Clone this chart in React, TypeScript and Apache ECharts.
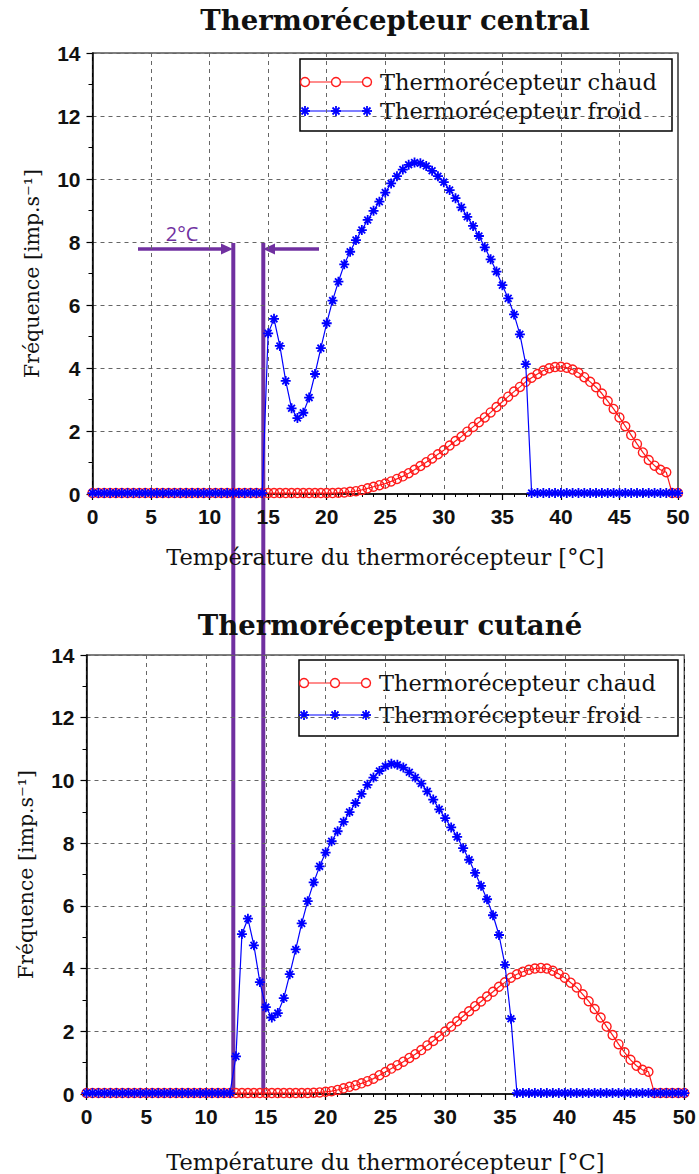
import React, { useEffect, useRef } from "react";
import * as echarts from "echarts";

// Temperature sampling (°C), one point every 0.5 °C from 0 to 50
const temperatures: number[] = Array.from({ length: 101 }, (_, i) => i / 2);

// Thermorécepteur central
const centralChaud: number[] = [
  0.03, 0.03, 0.03, 0.03, 0.03, 0.03, 0.03, 0.03, 0.03, 0.03,
  0.03, 0.03, 0.03, 0.03, 0.03, 0.03, 0.03, 0.03, 0.03, 0.03,
  0.03, 0.03, 0.03, 0.03, 0.03, 0.03, 0.03, 0.03, 0.03, 0.03,
  0.03, 0.03, 0.03, 0.03, 0.03, 0.03, 0.03, 0.03, 0.03, 0.03,
  0.03,
  0.03, 0.04, 0.05, 0.07, 0.09, 0.13, 0.18, 0.23, 0.28, 0.33,
  0.40, 0.48, 0.56, 0.66, 0.77, 0.89, 1.01, 1.13, 1.26, 1.39,
  1.54, 1.68, 1.82, 1.98, 2.13, 2.28, 2.43, 2.59, 2.76, 2.93,
  3.09, 3.25, 3.40, 3.56, 3.69, 3.81, 3.92, 3.99, 4.03, 4.04,
  4.01, 3.95, 3.85, 3.71, 3.56, 3.39, 3.19, 2.95, 2.70, 2.43,
  2.15, 1.87, 1.59, 1.32, 1.08, 0.90, 0.77, 0.69, 0.03, 0.03,
];
const centralFroid: number[] = [
  0.03, 0.03, 0.03, 0.03, 0.03, 0.03, 0.03, 0.03, 0.03, 0.03,
  0.03, 0.03, 0.03, 0.03, 0.03, 0.03, 0.03, 0.03, 0.03, 0.03,
  0.03, 0.03, 0.03, 0.03, 0.03, 0.03, 0.03, 0.03, 0.03,
  0.03, 5.1, 5.56, 4.7, 3.59, 2.72, 2.41, 2.58, 3.06, 3.81,
  4.63, 5.42, 6.14, 6.74, 7.29, 7.69, 8.06, 8.38, 8.70, 8.99,
  9.28, 9.57, 9.86, 10.09, 10.30, 10.45, 10.52, 10.50, 10.41, 10.26,
  10.09, 9.90, 9.65, 9.39, 9.10, 8.80, 8.51, 8.19, 7.83, 7.45,
  7.06, 6.63, 6.21, 5.70, 5.07, 4.12,
  0.03, 0.03, 0.03, 0.03, 0.03, 0.03, 0.03, 0.03, 0.03, 0.03,
  0.03, 0.03, 0.03, 0.03, 0.03, 0.03, 0.03, 0.03, 0.03, 0.03,
  0.03, 0.03, 0.03, 0.03, 0.03, 0.03,
];

// Thermorécepteur cutané
const cutaneChaud: number[] = [
  0.03, 0.03, 0.03, 0.03, 0.03, 0.03, 0.03, 0.03, 0.03, 0.03,
  0.03, 0.03, 0.03, 0.03, 0.03, 0.03, 0.03, 0.03, 0.03, 0.03,
  0.03, 0.03, 0.03, 0.03, 0.03, 0.03, 0.03, 0.03, 0.03, 0.03,
  0.03, 0.03, 0.03, 0.03, 0.03, 0.03, 0.03,
  0.03, 0.04, 0.05, 0.07, 0.09, 0.13, 0.18, 0.23, 0.28, 0.34,
  0.41, 0.49, 0.60, 0.70, 0.81, 0.92, 1.03, 1.15, 1.27, 1.40,
  1.55, 1.69, 1.84, 1.99, 2.15, 2.32, 2.48, 2.64, 2.80, 2.95,
  3.11, 3.26, 3.42, 3.56, 3.71, 3.82, 3.90, 3.96, 4.00, 4.02,
  4.00, 3.93, 3.83, 3.71, 3.55, 3.40, 3.18, 2.96, 2.71, 2.44,
  2.15, 1.88, 1.59, 1.33, 1.09, 0.90, 0.77, 0.71,
  0.03, 0.03, 0.03, 0.03, 0.03, 0.03,
];
const cutaneFroid: number[] = [
  0.03, 0.03, 0.03, 0.03, 0.03, 0.03, 0.03, 0.03, 0.03, 0.03,
  0.03, 0.03, 0.03, 0.03, 0.03, 0.03, 0.03, 0.03, 0.03, 0.03,
  0.03, 0.03, 0.03, 0.03, 0.03,
  1.2, 5.1, 5.59, 4.74, 3.57, 2.77, 2.44, 2.58, 3.06, 3.82,
  4.61, 5.44, 6.15, 6.75, 7.26, 7.70, 8.06, 8.38, 8.68, 8.99,
  9.28, 9.57, 9.86, 10.09, 10.30, 10.45, 10.53, 10.50, 10.41, 10.26,
  10.09, 9.90, 9.65, 9.39, 9.08, 8.80, 8.50, 8.20, 7.84, 7.47,
  7.05, 6.64, 6.21, 5.70, 5.07, 4.12, 2.40,
  0.03, 0.03, 0.03, 0.03, 0.03, 0.03, 0.03, 0.03, 0.03, 0.03,
  0.03, 0.03, 0.03, 0.03, 0.03, 0.03, 0.03, 0.03, 0.03, 0.03,
  0.03, 0.03, 0.03, 0.03, 0.03, 0.03, 0.03, 0.03, 0.03,
];

const titles = ["Thermorécepteur central", "Thermorécepteur cutané"];
const legendNames = ["Thermorécepteur chaud", "Thermorécepteur froid"];
const xAxisName = "Température du thermorécepteur [°C]";
const yAxisName = "Fréquence [imp.s⁻¹]";

const RED = "#ff1a1a";
const BLUE = "#0000ff";
const PURPLE = "#7030a0";
const SERIF = '"DejaVu Serif", serif';
const SANS = '"Liberation Sans", Arial, sans-serif';

const STAR = "path://M5 0 L5 10 M0 5 L10 5 M1.6 1.6 L8.4 8.4 M1.6 8.4 L8.4 1.6";

function pairs(vals: number[]) {
  return temperatures.map((t, i) => [t, vals[i]]);
}

function makeAxes(gi: number, xNameGap: number, yNameGap: number) {
  const x = {
    type: "value",
    gridIndex: gi,
    min: 0,
    max: 50,
    interval: 5,
    axisLine: { onZero: false, lineStyle: { color: "#000", width: 1.5 } },
    axisTick: { show: true, length: 6, lineStyle: { color: "#000", width: 1.2 } },
    minorTick: { show: true, splitNumber: 5, length: 3, lineStyle: { color: "#000", width: 1 } },
    splitLine: { show: true, lineStyle: { color: "#666", type: [4, 4], width: 1 } },
    axisLabel: { fontFamily: SANS, fontWeight: "bold", fontSize: 21, color: "#111", margin: 12 },
    name: xAxisName,
    nameLocation: "middle",
    nameGap: xNameGap,
    nameTextStyle: { fontFamily: SERIF, fontSize: 22.5, color: "#111" },
  };
  const y = {
    type: "value",
    gridIndex: gi,
    min: 0,
    max: 14,
    interval: 2,
    axisLine: { onZero: false, lineStyle: { color: "#000", width: 1.5 } },
    axisTick: { show: true, length: 6, lineStyle: { color: "#000", width: 1.2 } },
    minorTick: { show: true, splitNumber: 2, length: 4, lineStyle: { color: "#000", width: 1 } },
    splitLine: { show: true, lineStyle: { color: "#666", type: [4, 4], width: 1 } },
    axisLabel: { fontFamily: SANS, fontWeight: "bold", fontSize: 21, color: "#111", margin: 12 },
    name: yAxisName,
    nameLocation: "middle",
    nameGap: yNameGap,
    nameTextStyle: { fontFamily: SERIF, fontSize: 20.5, color: "#111" },
  };
  return { x, y };
}

function redSeries(gi: number, vals: number[]) {
  return {
    type: "line",
    name: legendNames[0],
    xAxisIndex: gi,
    yAxisIndex: gi,
    data: pairs(vals),
    symbol: "circle",
    symbolSize: 9,
    showAllSymbol: true,
    itemStyle: { color: "rgba(255,255,255,0)", borderColor: RED, borderWidth: 1.4 },
    lineStyle: { color: RED, width: 1.2 },
    z: 2,
  };
}

function blueSeries(gi: number, vals: number[]) {
  return {
    type: "line",
    name: legendNames[1],
    xAxisIndex: gi,
    yAxisIndex: gi,
    data: pairs(vals),
    symbol: STAR,
    symbolSize: 10,
    showAllSymbol: true,
    itemStyle: { color: BLUE, borderColor: BLUE, borderWidth: 1.8 },
    lineStyle: { color: BLUE, width: 1.2 },
    z: 3,
  };
}

function star(cx: number, cy: number, r: number, color: string) {
  const d = r * 0.7;
  const segs = [
    [0, -r, 0, r],
    [-r, 0, r, 0],
    [-d, -d, d, d],
    [-d, d, d, -d],
  ];
  return segs.map(([a, b, c, e]) => ({
    type: "line",
    shape: { x1: cx + a, y1: cy + b, x2: cx + c, y2: cy + e },
    style: { stroke: color, lineWidth: 1.8 },
  }));
}

function legendBox(x: number, y: number, w: number, h: number, row1: number, row2: number) {
  const lx = [x + 5, x + 36, x + 67];
  const items: any[] = [
    { type: "rect", shape: { x, y, width: w, height: h }, style: { fill: "#fff", stroke: "#000", lineWidth: 1.5 } },
    { type: "line", shape: { x1: lx[0], y1: row1, x2: lx[2], y2: row1 }, style: { stroke: RED, lineWidth: 1.2 } },
    ...lx.map((cx) => ({ type: "circle", shape: { cx, cy: row1, r: 4.5 }, style: { fill: "#fff", stroke: RED, lineWidth: 1.4 } })),
    { type: "text", x: x + 80, y: row1, style: { text: legendNames[0], font: `22.5px ${SERIF}`, fill: "#111", verticalAlign: "middle" } },
    { type: "line", shape: { x1: lx[0], y1: row2, x2: lx[2], y2: row2 }, style: { stroke: BLUE, lineWidth: 1.2 } },
    ...lx.flatMap((cx) => star(cx, row2, 5, BLUE)),
    { type: "text", x: x + 80, y: row2, style: { text: legendNames[1], font: `22.5px ${SERIF}`, fill: "#111", verticalAlign: "middle" } },
  ];
  return { type: "group", z: 50, children: items };
}

function annotation() {
  return {
    type: "group",
    z: 100,
    children: [
      { type: "line", shape: { x1: 233.3, y1: 243, x2: 233.3, y2: 1095 }, style: { stroke: PURPLE, lineWidth: 4 } },
      { type: "line", shape: { x1: 263.3, y1: 243, x2: 263.3, y2: 1095 }, style: { stroke: PURPLE, lineWidth: 4 } },
      { type: "line", shape: { x1: 138, y1: 249, x2: 224, y2: 249 }, style: { stroke: PURPLE, lineWidth: 3.5 } },
      { type: "polygon", shape: { points: [[221, 243.5], [233, 249], [221, 254.5]] }, style: { fill: PURPLE } },
      { type: "line", shape: { x1: 272, y1: 249, x2: 319, y2: 249 }, style: { stroke: PURPLE, lineWidth: 3.5 } },
      { type: "polygon", shape: { points: [[275, 243.5], [263, 249], [275, 254.5]] }, style: { fill: PURPLE } },
      { type: "text", x: 182, y: 233, style: { text: "2°C", font: '20px "Open Sans", sans-serif', fill: PURPLE, align: "center", verticalAlign: "middle" } },
    ],
  };
}

export default function App() {
  const ref = useRef<HTMLDivElement>(null);
  useEffect(() => {
    const chart = echarts.init(ref.current!, null, { renderer: "svg" });
    const a0 = makeAxes(0, 51, 50);
    const a1 = makeAxes(1, 56, 50);
    chart.setOption({
      animation: false,
      backgroundColor: "#fff",
      title: [
        { text: titles[0], left: 390, top: 1, textAlign: "center", textStyle: { fontFamily: SERIF, fontWeight: "bold", fontSize: 27.5, color: "#111" } },
        { text: titles[1], left: 385, top: 606, textAlign: "center", textStyle: { fontFamily: SERIF, fontWeight: "bold", fontSize: 27.5, color: "#111" } },
      ],
      grid: [
        { left: 92.5, top: 53, width: 585.5, height: 441, show: true, borderColor: "#000", borderWidth: 1.2, backgroundColor: "transparent" },
        { left: 86.5, top: 655, width: 598, height: 439, show: true, borderColor: "#000", borderWidth: 1.2, backgroundColor: "transparent" },
      ],
      xAxis: [a0.x, a1.x],
      yAxis: [a0.y, a1.y],
      series: [
        redSeries(0, centralChaud),
        blueSeries(0, centralFroid),
        redSeries(1, cutaneChaud),
        blueSeries(1, cutaneFroid),
      ],
      graphic: [
        legendBox(300, 59, 372, 72, 82, 111),
        legendBox(299, 660, 379, 76, 683, 715),
        annotation(),
      ],
    });
    return () => chart.dispose();
  }, []);
  return <div ref={ref} style={{ position: "absolute", left: 0, top: 0, width: 699, height: 1174 }} />;
}
